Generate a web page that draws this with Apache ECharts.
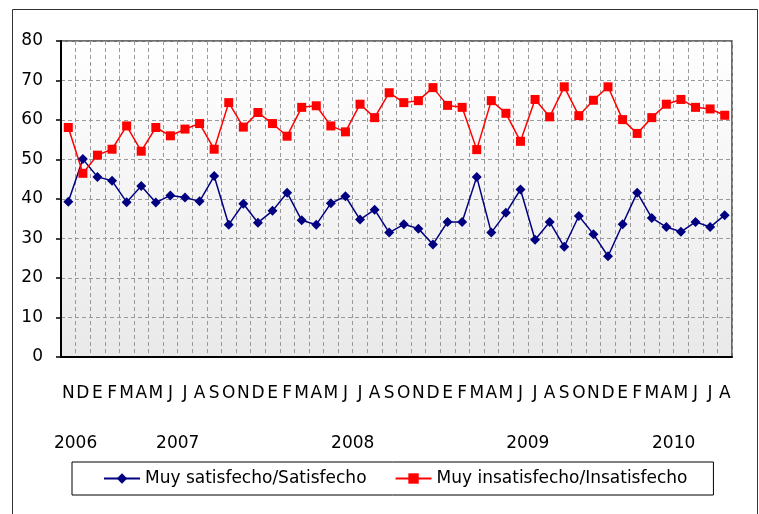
<!DOCTYPE html>
<html><head><meta charset="utf-8">
<script src="https://cdn.jsdelivr.net/npm/echarts@6/dist/echarts.min.js"></script>
<style>html,body{margin:0;padding:0;background:#fff}#c{width:759px;height:514px}</style>
</head><body><div id="c"></div>
<script>
const months = ['N','D','E','F','M','A','M','J','J','A','S','O','N','D','E','F','M','A','M','J','J','A','S','O','N','D','E','F','M','A','M','J','J','A','S','O','N','D','E','F','M','A','M','J','J','A'];
const yearLabels = ['2006','2007','2008','2009','2010'];
const yearPositions = [0.5, 7.5, 19.5, 31.5, 41.5];
const satisfecho = [39.3,50.1,45.6,44.6,39.2,43.3,39.1,40.9,40.4,39.4,45.8,33.5,38.8,34.0,37.0,41.6,34.6,33.5,38.9,40.7,34.8,37.3,31.5,33.6,32.5,28.5,34.2,34.2,45.6,31.5,36.5,42.4,29.7,34.2,27.9,35.7,31.1,25.5,33.6,41.6,35.2,32.9,31.7,34.2,32.9,35.9];
const insatisfecho = [58.1,46.5,51.1,52.6,58.5,52.1,58.1,56.0,57.7,59.1,52.6,64.4,58.2,61.9,59.1,55.9,63.2,63.6,58.5,57.0,64.0,60.6,66.9,64.4,64.9,68.2,63.7,63.2,52.5,64.9,61.7,54.6,65.2,60.8,68.4,61.1,65.0,68.4,60.1,56.6,60.6,64.0,65.2,63.2,62.8,61.2];
const seriesNames = ['Muy satisfecho/Satisfecho','Muy insatisfecho/Insatisfecho'];

const FONT = 'DejaVu Sans';
const chart = echarts.init(document.getElementById('c'), null, {renderer:'canvas'});
chart.setOption({
  animation: false,
  textStyle: {fontFamily: FONT},
  graphic: [{type:'rect', left:10, top:7, shape:{width:745, height:530}, style:{fill:'none', stroke:'#333', lineWidth:1}, silent:true, z:-10}],
  grid: {left:61, top:41, right:27, bottom:157, show:true,
    borderColor:'#404040', borderWidth:1.5,
    backgroundColor: new echarts.graphic.LinearGradient(0,0,0,1,[{offset:0,color:'#ffffff'},{offset:1,color:'#e9e9e9'}])},
  legend: {
    data: seriesNames, left:72, top:462, orient:'horizontal',
    padding:[8,26,8,31], itemGap:28, itemWidth:36, itemHeight:13,
    borderColor:'#000', borderWidth:1,
    textStyle:{fontFamily:FONT, fontSize:17, color:'#000'}
  },
  xAxis: [{
    type:'category', data: months, boundaryGap:true,
    axisLine:{show:true, onZero:false, lineStyle:{color:'#000', width:2}},
    axisTick:{show:false},
    axisLabel:{interval:0, fontFamily:FONT, fontSize:17, color:'#000', margin:28},
    splitLine:{show:true, interval:0, lineStyle:{color:'#999', type:[4,3], width:1}}
  },{
    type:'value', min:-0.5, max:45.5, position:'bottom',
    axisLine:{show:false, onZero:false}, axisTick:{show:false}, splitLine:{show:false},
    axisLabel:{customValues: yearPositions, fontFamily:FONT, fontSize:17, color:'#000', margin:78,
      formatter: function(v){ const i = yearPositions.indexOf(v); return i>=0 ? yearLabels[i] : ''; }}
  }],
  yAxis: {
    type:'value', min:0, max:80, interval:10,
    axisLine:{show:true, onZero:false, lineStyle:{color:'#000', width:2}},
    axisTick:{show:true, length:5, lineStyle:{color:'#000', width:1.5}},
    axisLabel:{fontFamily:FONT, fontSize:17, color:'#000', margin:18},
    splitLine:{show:true, lineStyle:{color:'#999', type:[4,3], width:1}}
  },
  series: [{
    name: seriesNames[0], type:'line', data: satisfecho,
    symbol:'diamond', symbolSize:10,
    lineStyle:{color:'#000080', width:1.5},
    itemStyle:{color:'#000080'}
  },{
    name: seriesNames[1], type:'line', data: insatisfecho,
    symbol:'rect', symbolSize:9,
    lineStyle:{color:'#ff0000', width:1.5},
    itemStyle:{color:'#ff0000'}
  }]
});
</script></body></html>
